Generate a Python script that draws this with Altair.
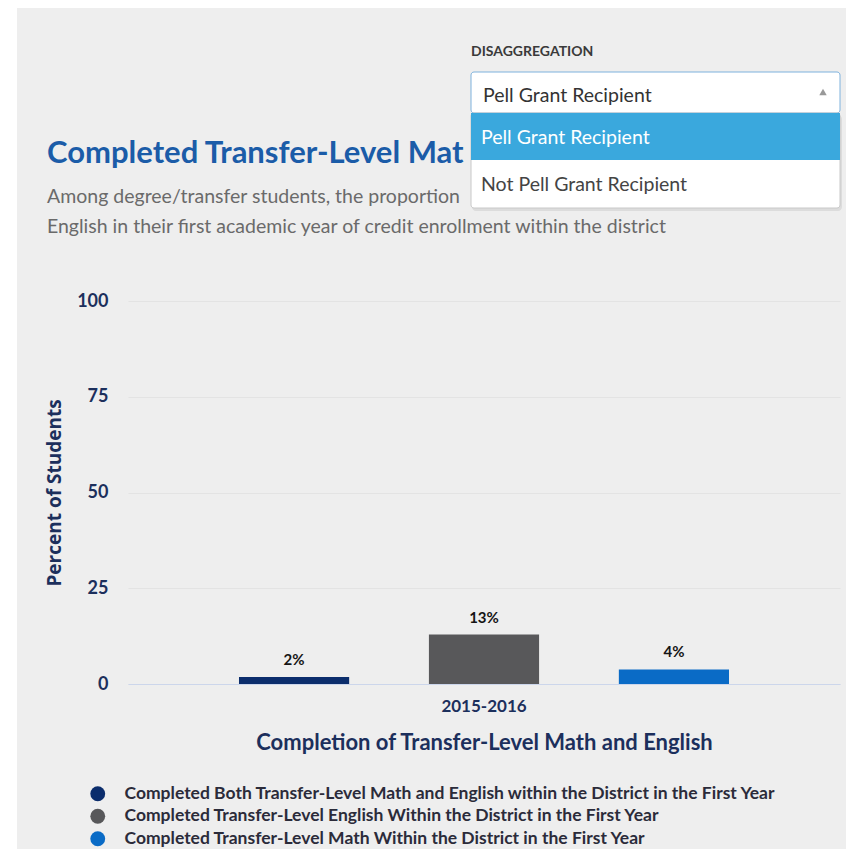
import altair as alt
import pandas as pd

# ---- data ----
years = ["2015-2016"]
series = [
    "Completed Both Transfer-Level Math and English within the District in the First Year",
    "Completed Transfer-Level English Within the District in the First Year",
    "Completed Transfer-Level Math Within the District in the First Year",
]
values = [1.8, 12.9, 3.8]
colors = ["#0b2d6c", "#58585a", "#0a6bc6"]

title_text = "Completed Transfer-Level Math and English"
subtitle_1 = "Among degree/transfer students, the proportion who completed both transfer-level math and"
subtitle_2 = "English in their first academic year of credit enrollment within the district"
dropdown_label = "DISAGGREGATION"
dropdown_options = ["Pell Grant Recipient", "Not Pell Grant Recipient"]

FONT = "Lato"
NAVY = "#1c2f5c"

df = pd.DataFrame({
    "year": [years[0]] * len(series),
    "series": series,
    "value": values,
})
one = pd.DataFrame({"k": [0]})

x_enc = alt.X("year:N", title="Completion of Transfer-Level Math and English",
              scale=alt.Scale(paddingInner=0, paddingOuter=0.2265),
              axis=alt.Axis(labelAngle=0, ticks=False, domainColor="#ccd6eb", zindex=1,
                            labelFont=FONT, labelFontSize=17, labelFontWeight="bold",
                            labelColor=NAVY, labelPadding=14,
                            titleFont=FONT, titleFontSize=22, titleFontWeight="bold",
                            titleColor=NAVY, titlePadding=18))
xo_enc = alt.XOffset("series:N", sort=series,
                     scale=alt.Scale(paddingInner=0.42, paddingOuter=0))
y_enc = alt.Y("value:Q", title="Percent of Students",
              scale=alt.Scale(domain=[0, 100]),
              axis=alt.Axis(values=[0, 25, 50, 75, 100], ticks=False, domain=False, zindex=1,
                            gridColor="#e3e3e3", labelFont=FONT, labelFontSize=18,
                            labelFontWeight="bold", labelColor=NAVY, labelPadding=20,
                            titleFont="Open Sans", titleFontSize=19, titleFontWeight="bold",
                            titleColor=NAVY, titlePadding=12))

bars = alt.Chart(df).mark_bar().encode(
    x=x_enc,
    xOffset=xo_enc,
    y=y_enc,
    color=alt.Color("series:N", sort=series,
                    scale=alt.Scale(domain=series, range=colors),
                    legend=alt.Legend(title=None, orient="none", legendX=-39, legendY=484,
                                      symbolType="circle", symbolSize=220,
                                      symbolStrokeWidth=0, labelFont=FONT,
                                      labelFontSize=17.5, labelFontWeight="bold",
                                      labelColor="#2b2b3a", labelOffset=18,
                                      rowPadding=3.5, labelLimit=800)),
)

labels = alt.Chart(df).transform_calculate(
    label="format(datum.value, '.0f') + '%'"
).mark_text(baseline="bottom", dy=-9, font=FONT, fontSize=15, fontWeight="bold",
            color="#151515").encode(
    x=alt.X("year:N"),
    xOffset=alt.XOffset("series:N", sort=series),
    y=alt.Y("value:Q"),
    text="label:N",
)

def txt(text, x, y, size, color, weight="normal", limit=0):
    kw = dict(align="left", baseline="alphabetic", font=FONT, fontSize=size,
              fontWeight=weight, color=color)
    if limit:
        kw.update(limit=limit, ellipsis="\u200b")
    return alt.Chart(one).mark_text(**kw).encode(
        x=alt.value(x), y=alt.value(y), text=alt.value(text))

def box(x1, x2, y1, y2, fill, stroke=None, radius=0):
    kw = dict(fill=fill, cornerRadius=radius)
    if stroke:
        kw.update(stroke=stroke, strokeWidth=1)
    return alt.Chart(one).mark_rect(**kw).encode(
        x=alt.value(x1), x2=alt.value(x2), y=alt.value(y1), y2=alt.value(y2))

panel = box(-111, 718, -295, 556, "#eeeeee")

title = txt(title_text, -81, -138, 31, "#1b5ca8", "bold", limit=424)
sub1 = txt(subtitle_1, -81, -98, 19.5, "#6a6a6a", limit=423)
sub2 = txt(subtitle_2, -81, -68, 19.5, "#6a6a6a")

dd_label = txt(dropdown_label, 343, -245, 14, "#3a3a3a", "bold")
dd_box = box(343, 712, -229, -188, "#ffffff", "#7fb2dd", 3)
dd_text = txt(dropdown_options[0], 355, -199, 19.5, "#333333")
dd_arrow = alt.Chart(one).mark_point(shape="triangle-up", filled=True, size=55,
                                     color="#999999", opacity=1).encode(
    x=alt.value(695), y=alt.value(-209))
dd_shadow = box(344, 714, -186, -90, "#dcdcdc", None, 4)
dd_list = box(343, 712, -188, -93, "#ffffff", "#c8c8c8", 3)
dd_hl = box(343, 712, -188, -141, "#3aa8dd")
dd_opt1 = txt(dropdown_options[0], 353, -157, 19.5, "#ffffff")
dd_opt2 = txt(dropdown_options[1], 353, -110, 19.5, "#444444")

chart = alt.layer(
    panel, bars, labels, title, sub1, sub2,
    dd_label, dd_box, dd_text, dd_arrow, dd_shadow, dd_list, dd_hl, dd_opt1, dd_opt2,
).properties(
    width=712, height=383,
    padding={"left": 120, "top": 293, "right": 6, "bottom": 165},
    autosize=alt.AutoSizeParams(type="none"),
    background="#ffffff",
).configure_view(stroke=None)

chart.save("out.html", embed_options={"renderer": "svg", "actions": False})
